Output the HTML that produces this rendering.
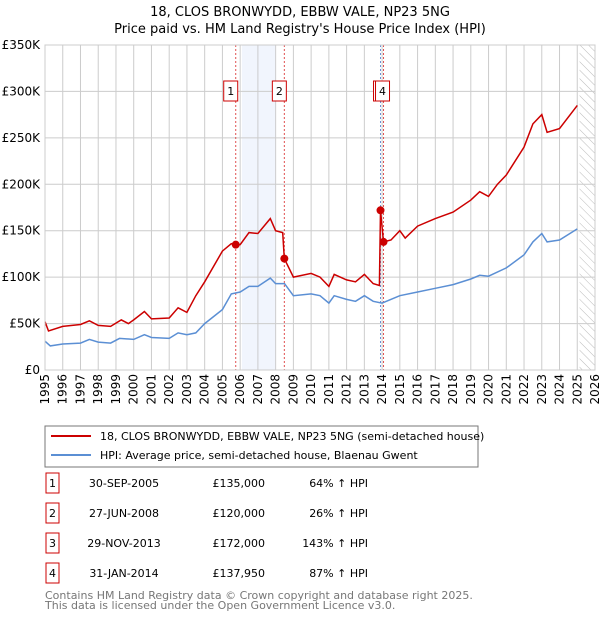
<!DOCTYPE html>
<html><head><meta charset="utf-8"><style>
body{margin:0;background:#fff;font-family:"Liberation Sans","DejaVu Sans",sans-serif;}
svg text{font-family:"DejaVu Sans","Liberation Sans",sans-serif;}
</style></head><body>
<svg width="600" height="620" xmlns="http://www.w3.org/2000/svg">
<defs><pattern id="hatch" width="6" height="6" patternUnits="userSpaceOnUse" patternTransform="rotate(-45)"><line x1="0" y1="0" x2="0" y2="6" stroke="#bbb" stroke-width="1"/></pattern></defs>
<text x="300" y="16" text-anchor="middle" font-size="13">18, CLOS BRONWYDD, EBBW VALE, NP23 5NG</text>
<text x="300" y="33" text-anchor="middle" font-size="13">Price paid vs. HM Land Registry's House Price Index (HPI)</text>
<g id="plot"></g>
<rect x="45" y="426" width="433" height="41" fill="#fff" stroke="#777"/>
<line x1="51" y1="436" x2="91" y2="436" stroke="#cc0000" stroke-width="2"/>
<text x="100" y="440" font-size="11">18, CLOS BRONWYDD, EBBW VALE, NP23 5NG (semi-detached house)</text>
<line x1="51" y1="455" x2="91" y2="455" stroke="#5b8fd4" stroke-width="2"/>
<text x="100" y="459" font-size="11">HPI: Average price, semi-detached house, Blaenau Gwent</text>
<g id="table" font-size="11"></g>
<text x="45" y="599" font-size="11" fill="#777">Contains HM Land Registry data © Crown copyright and database right 2025.</text>
<text x="45" y="609" font-size="11" fill="#777">This data is licensed under the Open Government Licence v3.0.</text>
</svg>
<script>
const hpiYears=[1995,1995.3,1996,1997,1997.5,1998,1998.7,1999.2,2000,2000.6,2001,2002,2002.5,2003,2003.5,2004,2005,2005.5,2006,2006.5,2007,2007.7,2008,2008.5,2009,2010,2010.5,2011,2011.3,2012,2012.5,2013,2013.5,2014,2015,2016,2017,2018,2019,2019.5,2020,2021,2022,2022.5,2023,2023.3,2024,2025];
const hpiValues=[31,26,28,29,33,30,29,34,33,38,35,34,40,38,40,50,65,82,84,90,90,99,93,93,80,82,80,72,80,76,74,80,74,72,80,84,88,92,98,102,101,110,124,138,147,138,140,152];
const propYears=[1995,1995.2,1996,1997,1997.5,1998,1998.7,1999.3,1999.7,2000,2000.6,2001,2002,2002.5,2003,2003.5,2004,2005,2005.5,2005.75,2006,2006.5,2007,2007.7,2008,2008.4,2008.49,2009,2010,2010.5,2011,2011.3,2012,2012.5,2013,2013.5,2013.85,2013.91,2014.08,2014.5,2015,2015.3,2016,2017,2018,2019,2019.5,2020,2020.5,2021,2022,2022.5,2023,2023.3,2024,2025];
const propValues=[52,42,47,49,53,48,47,54,50,54,63,55,56,67,62,80,95,128,136,135,135,148,147,163,150,148,120,100,104,100,90,103,97,95,103,93,91,172,137.95,140,150,142,155,163,170,183,192,187,200,210,240,265,275,256,260,285];
const saleLabels=["1","2","3","4"];
const saleYears=[2005.75,2008.49,2013.91,2014.08];
const saleValues=[135,120,172,137.95];
const saleDates=["30-SEP-2005","27-JUN-2008","29-NOV-2013","31-JAN-2014"];
const salePrices=["£135,000","£120,000","£172,000","£137,950"];
const saleHpi=["64% ↑ HPI","26% ↑ HPI","143% ↑ HPI","87% ↑ HPI"];
const yTicks=[0,50,100,150,200,250,300,350];
const yTickLabels=["£0","£50K","£100K","£150K","£200K","£250K","£300K","£350K"];
const xStart=1995,xEnd=2026;
const NS="http://www.w3.org/2000/svg";
const X=y=>45+(y-xStart)*(550/(xEnd-xStart));
const Y=v=>370-v*(325/350);
const plot=document.getElementById('plot');
function mk(t,a,p){const e=document.createElementNS(NS,t);for(const k in a)e.setAttribute(k,a[k]);(p||plot).appendChild(e);return e;}
let e=mk('rect',{x:X(2006.1),y:45,width:X(2008.0)-X(2006.1),height:325,fill:'#eef3fc',opacity:0.8});


e=mk('rect',{x:X(2025.13),y:45,width:X(2026)-X(2025.13),height:325,fill:'url(#hatch)'});


for(let yr=xStart;yr<=xEnd;yr++){
 e=mk('line',{x1:X(yr),y1:45,x2:X(yr),y2:370,stroke:'#ccc','stroke-width':1});
 
 
 const tx=X(yr)+4,ty=374;
 e=mk('text',{x:tx,y:ty,'font-size':12,'text-anchor':'end',transform:`rotate(-90 ${tx} ${ty})`});
 e.textContent=yr;
 
 
}
yTicks.forEach((v,i)=>{
 e=mk('line',{x1:45,y1:Y(v),x2:595,y2:Y(v),stroke:'#ccc','stroke-width':1});
 
 
 e=mk('text',{x:40,y:Y(v)+4,'font-size':12,'text-anchor':'end'});
 e.textContent=yTickLabels[i];
 
 
});
saleYears.forEach((yr,i)=>{
 e=mk('line',{x1:X(yr),y1:45,x2:X(yr),y2:370,stroke:i==2?'#6c8fd4':'#e05050','stroke-width':1,'stroke-dasharray':'2,2'});
 
 
});
function path(xs,vs,col,name){
 const d=xs.map((x,i)=>(i?'L':'M')+X(x).toFixed(1)+','+Y(vs[i]).toFixed(1)).join('');
 const p=mk('path',{d,fill:'none',stroke:col,'stroke-width':1.5});
 
 
}
path(hpiYears,hpiValues,'#5b8fd4','hpi-line');
path(propYears,propValues,'#cc0000','property-line');
saleYears.forEach((yr,i)=>{
 e=mk('circle',{cx:X(yr),cy:Y(saleValues[i]),r:4,fill:'#cc0000'});
 
 
});
[0,1,2,3].forEach(i=>{
 if(i==2)return;
 const x0=i==3?X(saleYears[i])-8:X(saleYears[i])-12;
 const g=mk('g',{});
 
 
 if(i==3){mk('rect',{x:x0-2,y:81,width:14,height:20,fill:'#fff',stroke:'#cc0000'},g);}
 mk('rect',{x:x0,y:81,width:14,height:20,fill:'#fff',stroke:'#cc0000'},g);
 const t=mk('text',{x:x0+7,y:95,'font-size':11,'text-anchor':'middle'},g);
 t.textContent=saleLabels[i];
});
e=mk('rect',{x:45,y:45,width:550,height:325,fill:'none',stroke:'#ccc'});


const tb=document.getElementById('table');
saleLabels.forEach((l,i)=>{
 const cy=483+i*30;
 const g=mk('g',{},tb);
 
 
 mk('rect',{x:46,y:cy-10,width:13,height:20,fill:'#fff',stroke:'#cc0000'},g);
 let t=mk('text',{x:52.5,y:cy+4,'text-anchor':'middle'},g);t.textContent=l;
 t=mk('text',{x:124,y:cy+4,'text-anchor':'middle'},g);t.textContent=saleDates[i];
 t=mk('text',{x:265,y:cy+4,'text-anchor':'end'},g);t.textContent=salePrices[i];
 t=mk('text',{x:368,y:cy+4,'text-anchor':'end'},g);t.textContent=saleHpi[i];
});
</script>
</body></html>
